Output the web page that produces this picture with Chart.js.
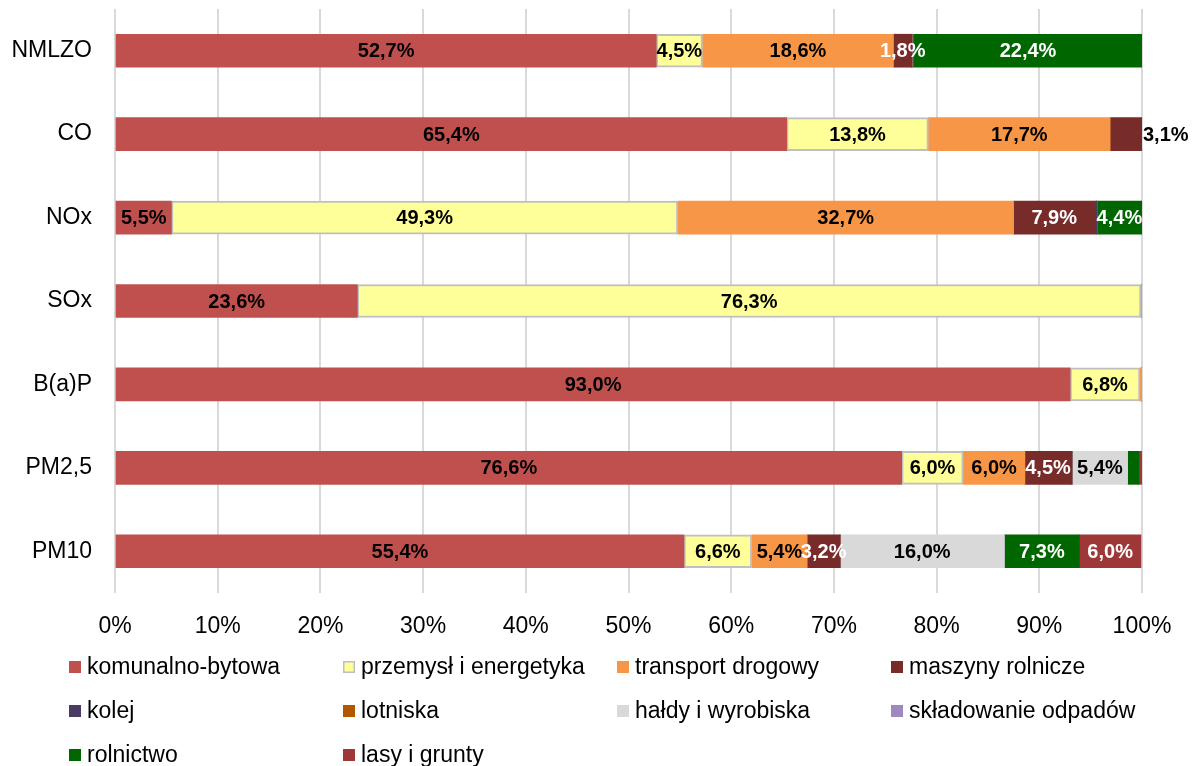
<!DOCTYPE html>
<html>
<head>
<meta charset="utf-8">
<script src="https://cdn.jsdelivr.net/npm/chart.js@4.4.0/dist/chart.umd.min.js"></script>
<style>
  html, body { margin: 0; padding: 0; background: #ffffff; }
  #wrap { width: 1194px; height: 766px; }
</style>
</head>
<body>
<div id="wrap"><canvas id="chart" width="1194" height="766"></canvas></div>
<script>
// categories (pollutants), top to bottom
const categories = ['NMLZO', 'CO', 'NOx', 'SOx', 'B(a)P', 'PM2,5', 'PM10'];

// share of each source, %
const komunalno   = [52.7, 65.4,  5.5, 23.6, 93.0, 76.6, 55.4];
const przemysl    = [ 4.5, 13.8, 49.3, 76.3,  6.8,  6.0,  6.6];
const transport   = [18.6, 17.7, 32.7,  0.1,  0.2,  6.0,  5.4];
const maszyny     = [ 1.8,  3.1,  7.9,  0,    0,    4.5,  3.2];
const kolej       = [ 0,    0,    0.2,  0,    0,    0.1,  0];
const lotniska    = [ 0,    0,    0,    0,    0,    0,    0];
const haldy       = [ 0,    0,    0,    0,    0,    5.4, 16.0];
const skladowanie = [ 0.1,  0,    0,    0,    0,    0,    0];
const rolnictwo   = [22.4,  0,    4.4,  0,    0,    1.1,  7.3];
const lasy        = [ 0,    0,    0,    0,    0,    0.3,  6.0];

const seriesNames = ['komunalno-bytowa', 'przemysł i energetyka', 'transport drogowy', 'maszyny rolnicze',
  'kolej', 'lotniska', 'hałdy i wyrobiska', 'składowanie odpadów', 'rolnictwo', 'lasy i grunty'];
const seriesValues = [komunalno, przemysl, transport, maszyny, kolej, lotniska, haldy, skladowanie, rolnictwo, lasy];
const seriesColors = ['#C0504D', '#FFFF99', '#F79646', '#772C2A', '#4B3A63', '#B35600', '#D9D9D9', '#9F88BD', '#006600', '#9E3838'];
const labelColors  = ['#000000', '#000000', '#000000', '#ffffff', '#ffffff', '#ffffff', '#000000', '#000000', '#ffffff', '#ffffff'];

Chart.defaults.font.family = '"Liberation Sans", Arial, sans-serif';
Chart.defaults.color = '#000000';

// value labels inside the segments
const barLabels = {
  id: 'barLabels',
  afterDatasetsDraw(chart, args, opts) {
    const ctx = chart.ctx;
    const area = chart.chartArea;
    ctx.save();
    ctx.font = opts.font;
    ctx.textBaseline = 'middle';
    chart.data.datasets.forEach((ds, i) => {
      const meta = chart.getDatasetMeta(i);
      meta.data.forEach((bar, j) => {
        const v = ds.data[j];
        if (v < opts.minValue) return;
        const text = v.toFixed(1).replace('.', ',') + '%';
        const w = ctx.measureText(text).width;
        const left = Math.min(bar.x, bar.base);
        const right = Math.max(bar.x, bar.base);
        if (w > right - left + 6 && right >= area.right - 1) {
          // too narrow at the end of the bar -> put it outside
          ctx.fillStyle = opts.outsideColor;
          ctx.textAlign = 'left';
          ctx.fillText(text, right + 1, bar.y + 1);
        } else {
          ctx.fillStyle = ds.labelColor;
          ctx.textAlign = 'center';
          ctx.fillText(text, (left + right) / 2, bar.y + 1);
        }
      });
    });
    ctx.restore();
  }
};

// legend laid out as a fixed grid, like the original
const gridLegend = {
  id: 'gridLegend',
  afterDraw(chart, args, opts) {
    const ctx = chart.ctx;
    ctx.save();
    ctx.font = opts.font;
    ctx.textBaseline = 'middle';
    ctx.textAlign = 'left';
    chart.data.datasets.forEach((ds, i) => {
      const col = i % opts.columns;
      const row = Math.floor(i / opts.columns);
      const x = opts.left + col * opts.colWidth;
      const y = opts.top + row * opts.rowHeight;
      ctx.fillStyle = ds.backgroundColor;
      ctx.fillRect(x, y - opts.box / 2, opts.box, opts.box);
      if (ds.borderWidth) {
        ctx.strokeStyle = ds.borderColor;
        ctx.lineWidth = 1.5;
        ctx.strokeRect(x + 0.75, y - opts.box / 2 + 0.75, opts.box - 1.5, opts.box - 1.5);
      }
      ctx.fillStyle = '#000000';
      ctx.fillText(ds.label, x + opts.box + opts.gap, y + 1);
    });
    ctx.restore();
  }
};

const datasets = seriesNames.map((name, i) => ({
  label: name,
  data: seriesValues[i],
  backgroundColor: seriesColors[i],
  borderColor: i === 1 ? '#BFBFBF' : seriesColors[i],
  borderWidth: i === 1 ? 2 : 0,
  borderSkipped: false,
  labelColor: labelColors[i],
  barThickness: 33
}));

new Chart(document.getElementById('chart').getContext('2d'), {
  type: 'bar',
  data: { labels: categories, datasets: datasets },
  options: {
    indexAxis: 'y',
    responsive: false,
    devicePixelRatio: 1,
    animation: false,
    layout: { padding: { top: 9, right: 52, bottom: 113, left: 0 } },
    scales: {
      x: {
        stacked: true,
        min: 0,
        max: 100,
        ticks: {
          stepSize: 10,
          font: { size: 23 },
          padding: 20,
          callback: v => v + '%'
        },
        grid: { color: '#D9D9D9', lineWidth: 2, drawTicks: false },
        border: { display: false },
        afterFit: scale => { scale.height = 60; }
      },
      y: {
        stacked: true,
        ticks: { font: { size: 23 }, padding: 23 },
        grid: { display: false, drawTicks: false },
        border: { display: false },
        afterFit: scale => {
          scale.width = 115;
          scale.paddingTop = 0;
          scale.paddingBottom = 0;
        }
      }
    },
    plugins: {
      legend: { display: false },
      tooltip: { enabled: false },
      barLabels: { font: 'bold 20px "Liberation Sans", Arial, sans-serif', minValue: 1.5, outsideColor: '#000000' },
      gridLegend: { font: '23px "Liberation Sans", Arial, sans-serif', columns: 4, left: 69, colWidth: 274,
        top: 667, rowHeight: 44, box: 12, gap: 6 }
    }
  },
  plugins: [barLabels, gridLegend]
});
</script>
</body>
</html>
